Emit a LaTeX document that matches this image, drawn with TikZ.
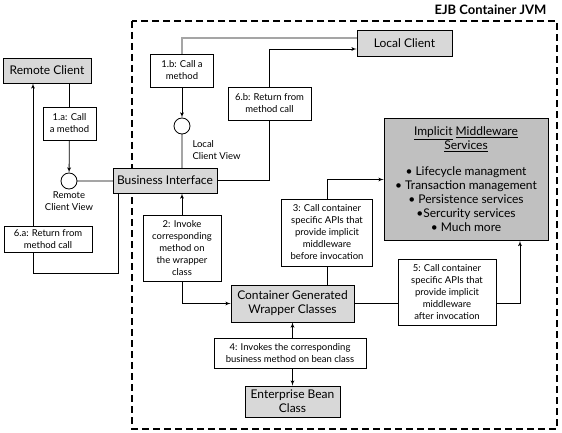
\documentclass[tikz,border=0pt]{standalone}
\usepackage{fontspec}
\setmainfont{Lato}
\usepackage{tikz}
\usetikzlibrary{arrows}
\usetikzlibrary{calc, backgrounds}
\definecolor{boxgray}{RGB}{216,216,216}
\definecolor{mwgray}{RGB}{192,192,192}
\definecolor{viewgray}{RGB}{165,165,165}

\begin{document}
\begin{tikzpicture}[x=1pt, y=-1pt, >=latex']
        \tikzset{box/.style = {draw, fill=boxgray, align=center, inner sep=0pt, line width=0.8pt, font=\fontsize{12}{14}\selectfont}}
        \tikzset{lbl/.style = {draw, fill=white, align=center, inner sep=0pt, line width=0.8pt, font=\fontsize{9.5}{12}\selectfont}}
        \tikzset{view/.style = {shape=circle, draw, fill=white, minimum size=16pt, inner sep=0pt, line width=0.8pt}}
        \tikzset{edge/.style = {line width=0.8pt}}
        \tikzset{viewedge/.style = {line width=2pt, draw=viewgray}}
        \useasboundingbox (0,0) rectangle (562,433);

        \draw[line width=1.8pt, dash pattern=on 7pt off 4pt] (132,21) rectangle (557,429);
        \node[anchor=east, font=\fontsize{13}{15}\selectfont\bfseries] (jvm) at (550,10) {EJB Container JVM};

        \node[box, minimum width=88pt, minimum height=25pt] (remote) at (47,70.5) {Remote Client};
        \node[box, minimum width=95pt, minimum height=26pt] (local) at (404.5,43) {Local Client};
        \node[box, minimum width=104pt, minimum height=25pt] (bi) at (165,180.5) {Business Interface};
        \node[box, fill=mwgray, minimum width=164pt, minimum height=122pt] (mw) at (466,179.5) {\underline{Implicit} \underline{Middleware}\\\underline{Services}\\[12pt]\textbullet{} Lifecycle managment\\\textbullet{} Transaction management\\\textbullet{} Persistence services\\\textbullet Sercurity services\\\textbullet{} Much more};
        \node[box, minimum width=123pt, minimum height=37pt] (cgw) at (292.5,303.5) {Container Generated\\Wrapper Classes};
        \node[box, minimum width=95pt, minimum height=31pt] (bean) at (292.5,401.5) {Enterprise Bean\\Class};

        \node[view] (rcv) at (69,181) {};
        \node[view] (lcv) at (182,126) {};
        \node[font=\fontsize{9.5}{12}\selectfont, align=center] (rcvtext) at (69,201) {Remote\\Client View};
        \node[font=\fontsize{9.5}{12}\selectfont, align=left, anchor=west] (lcvtext) at (189,150) {Local\\Client View};

        \node[lbl, minimum width=53pt, minimum height=33pt] (la) at (69.5,123.5) {1.a: Call\\a method};
        \node[lbl, minimum width=63pt, minimum height=33pt] (lb) at (182,70.5) {1.b: Call a\\method};
        \node[lbl, minimum width=88pt, minimum height=26pt] (l6a) at (48,239) {6.a: Return from\\method call};
        \node[lbl, minimum width=83pt, minimum height=33pt] (l6b) at (269.5,103.5) {6.b: Return from\\method call};
        \node[lbl, minimum width=78pt, minimum height=66pt] (l2) at (182,248) {2: Invoke\\corresponding\\method on\\the wrapper\\class};
        \node[lbl, minimum width=91pt, minimum height=67pt] (l3) at (327,232.5) {3: Call container\\specific APIs that\\provide implicit\\middleware\\before invocation};
        \node[lbl, minimum width=152pt, minimum height=30pt] (l4) at (290,353) {4: Invokes the corresponding\\business method on bean class};
        \node[lbl, minimum width=98pt, minimum height=66pt] (l5) at (447,292) {5: Call container\\specific APIs that\\provide implicit\\middleware\\after invocation};

        \begin{scope}[on background layer]
        \draw[edge] (remote.south -| la) -- (la);
        \draw[edge,->] (la) -- (rcv);
        \draw[viewedge] (rcv) -- (rcv -| bi.west);
        \draw[edge,->] ([xshift=6pt]bi.south west) |- ([yshift=-21pt]l6a.south) -| ([xshift=-14pt]remote.south);
        \draw[viewedge] ([yshift=5pt]local.west) -| (lb);
        \draw[edge,->] (lb) -- (lcv);
        \draw[viewedge] (lcv) -- (lcv |- bi.north);
        \draw[edge,->] (bi.east) -| (l6b.center) |- ([yshift=-6pt]local.west);
        \draw[edge,<->] (bi.south -| l2) -- (l2.center) |- (cgw.west);
        \draw[edge,->] (cgw.north -| l3) -- (l3.center) |- (mw.west);
        \draw[edge,->] (cgw.east) -| ([xshift=54pt]mw.south);
        \draw[edge,<->] (cgw) -- (bean);
        \end{scope}
      \end{tikzpicture}
\end{document}
